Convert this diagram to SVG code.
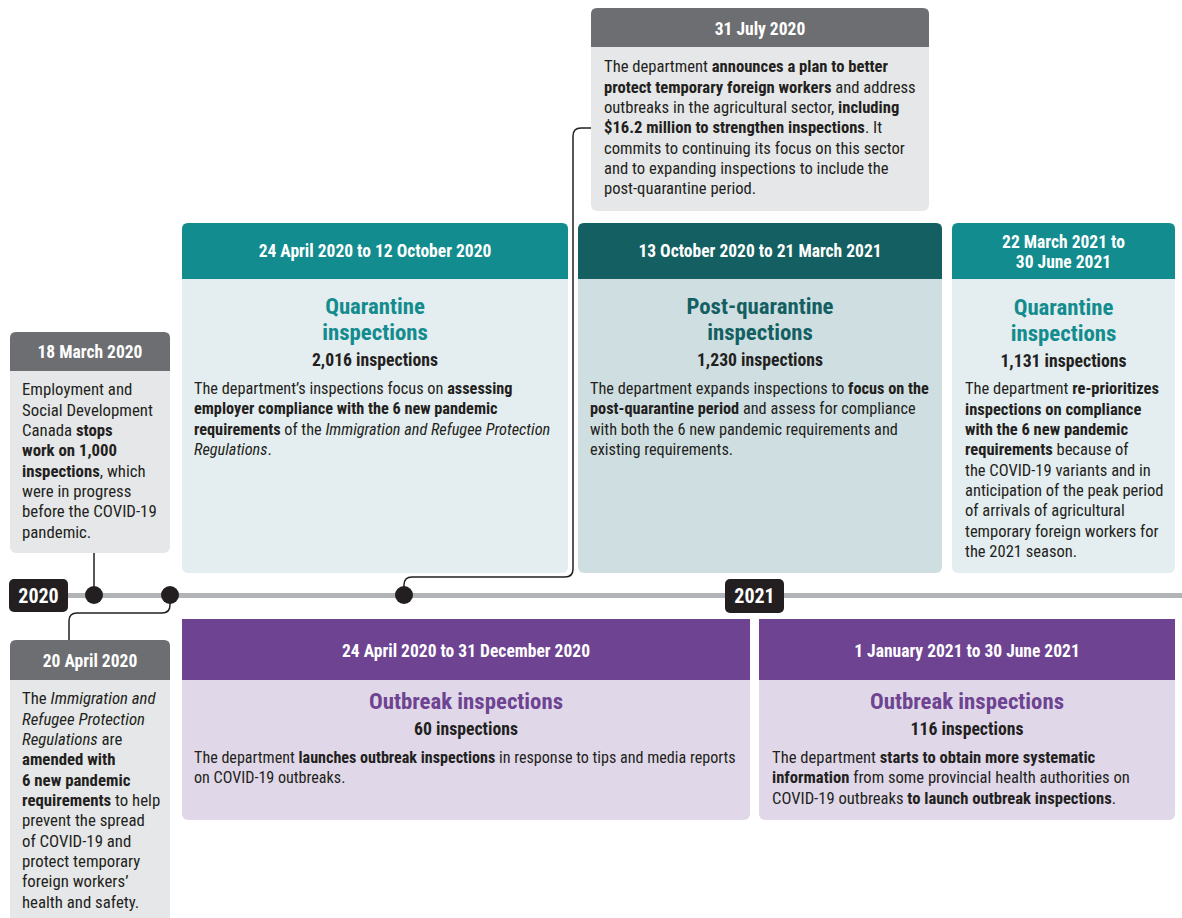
<svg xmlns="http://www.w3.org/2000/svg" width="1182" height="918" viewBox="0 0 1182 918">
<style>
text{font-family:'Roboto Condensed','Roboto',sans-serif;fill:#231f20}
.b{font-size:16.5px}
.hd{font-size:17.5px;font-weight:bold;fill:#fff;text-anchor:middle}
.tt{font-size:22.8px;font-weight:bold;text-anchor:middle}
.ct{font-size:17.7px;font-weight:bold;text-anchor:middle}
.yr{font-size:20px;font-weight:bold;fill:#fff;text-anchor:middle}
.s{font-weight:bold}
.i{font-style:italic}
.conn{fill:none;stroke:#231f20;stroke-width:1.5}
</style>
<rect width="1182" height="918" fill="#fff"/>
<g id="timeline">
<rect x="60" y="593" width="1122" height="5" fill="#b1b3b6"/>
<rect x="9" y="579" width="59" height="33" rx="5" fill="#231f20"/>
<text class="yr" x="38.5" y="603">2020</text>
<rect x="725" y="579" width="59" height="34" rx="5" fill="#231f20"/>
<text class="yr" x="754.5" y="603">2021</text>
</g>
<g id="connectors">
<path class="conn" d="M94 595 V553"/>
<path class="conn" d="M170 595 V605 Q170 613 162 613 H77 Q69 613 69 621 V640"/>
<path class="conn" d="M404 595 V585 Q404 577 412 577 H565 Q573 577 573 569 V136 Q573 128 581 128 H591"/>
<circle cx="94" cy="595" r="9" fill="#231f20"/>
<circle cx="170" cy="595" r="9" fill="#231f20"/>
<circle cx="404" cy="595" r="9" fill="#231f20"/>
</g>
<g id="n18march">
<rect x="10" y="332" width="160" height="221" rx="6" fill="#e6e7e8"/>
<path d="M10 371 V338 Q10 332 16 332 H164 Q170 332 170 338 V371 Z" fill="#6d6e71"/>
<text class="hd" x="90" y="358">18 March 2020</text>
<text class="b" style="font-size:16.8px"><tspan x="22" y="395">Employment and</tspan><tspan x="22" y="415.5">Social Development</tspan><tspan x="22" y="436">Canada <tspan class="s">stops</tspan></tspan><tspan x="22" y="456" class="s">work on 1,000</tspan><tspan x="22" y="476.5"><tspan class="s">inspections</tspan>, which</tspan><tspan x="22" y="497">were in progress</tspan><tspan x="22" y="517">before the COVID-19</tspan><tspan x="22" y="537.5">pandemic.</tspan></text>
</g>
<g id="n20april">
<rect x="10" y="640" width="160" height="290" rx="6" fill="#e6e7e8"/>
<path d="M10 680 V646 Q10 640 16 640 H164 Q170 640 170 646 V680 Z" fill="#6d6e71"/>
<text class="hd" x="90" y="667">20 April 2020</text>
<text class="b" style="font-size:16.8px"><tspan x="22" y="704">The <tspan class="i">Immigration and</tspan></tspan><tspan x="22" y="724.5" class="i">Refugee Protection</tspan><tspan x="22" y="745"><tspan class="i">Regulations</tspan> are</tspan><tspan x="22" y="765" class="s">amended with</tspan><tspan x="22" y="785.5" class="s">6 new pandemic</tspan><tspan x="22" y="806"><tspan class="s">requirements</tspan> to help</tspan><tspan x="22" y="826">prevent the spread</tspan><tspan x="22" y="846.5">of COVID-19 and</tspan><tspan x="22" y="867">protect temporary</tspan><tspan x="22" y="887">foreign workers’</tspan><tspan x="22" y="907.5">health and safety.</tspan></text>
</g>
<g id="n31july">
<rect x="591" y="8" width="338" height="203" rx="6" fill="#e6e7e8"/>
<path d="M591 47 V14 Q591 8 597 8 H923 Q929 8 929 14 V47 Z" fill="#6d6e71"/>
<text class="hd" x="760" y="35">31 July 2020</text>
<text class="b" style="font-size:16.6px"><tspan x="604" y="72">The department <tspan class="s">announces a plan to better</tspan></tspan><tspan x="604" y="92.5"><tspan class="s">protect temporary foreign workers</tspan> and address</tspan><tspan x="604" y="113">outbreaks in the agricultural sector, <tspan class="s">including</tspan></tspan><tspan x="604" y="133"><tspan class="s">$16.2 million to strengthen inspections</tspan>. It</tspan><tspan x="604" y="153.5">commits to continuing its focus on this sector</tspan><tspan x="604" y="174">and to expanding inspections to include the</tspan><tspan x="604" y="194">post-quarantine period.</tspan></text>
</g>
<g id="nquar1">
<rect x="182" y="223" width="386" height="350" rx="6" fill="#e4edef"/>
<path d="M182 279 V229 Q182 223 188 223 H562 Q568 223 568 229 V279 Z" fill="#128c8e"/>
<text class="hd" x="375" y="257">24 April 2020 to 12 October 2020</text>
<text class="tt" style="fill:#128c8e"><tspan x="375" y="314">Quarantine</tspan><tspan x="375" y="340">inspections</tspan></text>
<text class="ct" x="375" y="366">2,016 inspections</text>
<text class="b" style="font-size:16.3px"><tspan x="194" y="394">The department’s inspections focus on <tspan class="s">assessing</tspan></tspan><tspan x="194" y="414" class="s">employer compliance with the 6 new pandemic</tspan><tspan x="194" y="434.5"><tspan class="s">requirements</tspan> of the <tspan class="i">Immigration and Refugee Protection</tspan></tspan><tspan x="194" y="455"><tspan class="i">Regulations</tspan>.</tspan></text>
</g>
<g id="npostquar">
<rect x="578" y="223" width="364" height="350" rx="6" fill="#cfdee1"/>
<path d="M578 279 V229 Q578 223 584 223 H936 Q942 223 942 229 V279 Z" fill="#135f61"/>
<text class="hd" x="760" y="257">13 October 2020 to 21 March 2021</text>
<text class="tt" style="fill:#135f61"><tspan x="760" y="314">Post-quarantine</tspan><tspan x="760" y="340">inspections</tspan></text>
<text class="ct" x="760" y="366">1,230 inspections</text>
<text class="b" style="font-size:16.3px"><tspan x="590" y="394">The department expands inspections to <tspan class="s">focus on the</tspan></tspan><tspan x="590" y="414"><tspan class="s">post-quarantine period</tspan> and assess for compliance</tspan><tspan x="590" y="434.5">with both the 6 new pandemic requirements and</tspan><tspan x="590" y="455">existing requirements.</tspan></text>
</g>
<g id="nquar2">
<rect x="952" y="223" width="223" height="350" rx="6" fill="#e4edef"/>
<path d="M952 279 V229 Q952 223 958 223 H1169 Q1175 223 1175 229 V279 Z" fill="#128c8e"/>
<text class="hd"><tspan x="1063.5" y="248">22 March 2021 to</tspan><tspan x="1063.5" y="268">30 June 2021</tspan></text>
<text class="tt" style="fill:#128c8e"><tspan x="1063.5" y="315">Quarantine</tspan><tspan x="1063.5" y="341">inspections</tspan></text>
<text class="ct" x="1063.5" y="367">1,131 inspections</text>
<text class="b"><tspan x="965" y="394">The department <tspan class="s">re-prioritizes</tspan></tspan><tspan x="965" y="414.5" class="s">inspections on compliance</tspan><tspan x="965" y="435" class="s">with the 6 new pandemic</tspan><tspan x="965" y="455"><tspan class="s">requirements</tspan> because of</tspan><tspan x="965" y="475.5">the COVID-19 variants and in</tspan><tspan x="965" y="496">anticipation of the peak period</tspan><tspan x="965" y="516">of arrivals of agricultural</tspan><tspan x="965" y="536.5">temporary foreign workers for</tspan><tspan x="965" y="557">the 2021 season.</tspan></text>
</g>
<g id="noutbreak1">
<rect x="182" y="619" width="568" height="201" rx="6" fill="#e0d8e9"/>
<rect x="182" y="619" width="568" height="61" fill="#6e4391"/>
<text class="hd" x="466" y="657">24 April 2020 to 31 December 2020</text>
<text class="tt" x="466" y="709" style="fill:#6e4391">Outbreak inspections</text>
<text class="ct" x="466" y="735">60 inspections</text>
<text class="b" style="font-size:16.1px"><tspan x="194" y="763">The department <tspan class="s">launches outbreak inspections</tspan> in response to tips and media reports</tspan><tspan x="194" y="783">on COVID-19 outbreaks.</tspan></text>
</g>
<g id="noutbreak2">
<rect x="759" y="619" width="416" height="201" rx="6" fill="#e0d8e9"/>
<rect x="759" y="619" width="416" height="61" fill="#6e4391"/>
<text class="hd" x="967" y="657">1 January 2021 to 30 June 2021</text>
<text class="tt" x="967" y="709" style="fill:#6e4391">Outbreak inspections</text>
<text class="ct" x="967" y="735">116 inspections</text>
<text class="b" style="font-size:16.6px"><tspan x="772" y="763">The department <tspan class="s">starts to obtain more systematic</tspan></tspan><tspan x="772" y="783"><tspan class="s">information</tspan> from some provincial health authorities on</tspan><tspan x="772" y="803.5">COVID-19 outbreaks <tspan class="s">to launch outbreak inspections</tspan>.</tspan></text>
</g>
</svg>
